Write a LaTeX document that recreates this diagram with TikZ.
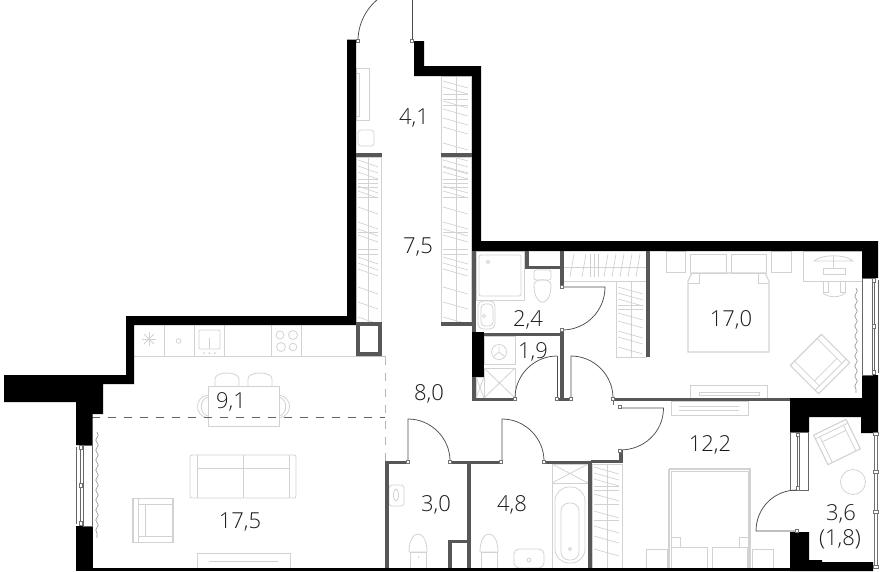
\documentclass[tikz,border=0pt]{standalone}
\usepackage{fontspec}
\setmainfont{Open Sans Light}[]
\usetikzlibrary{decorations.pathmorphing}
\definecolor{wallgray}{HTML}{575757}
\definecolor{furn}{HTML}{D2D2D2}
\definecolor{lbl}{HTML}{1A1A1A}
\tikzset{
  wallblack/.style={fill=black,draw=none},
  wallinner/.style={fill=wallgray,draw=none},
  fur/.style={draw=furn,line width=0.8pt,fill=none},
  hatchline/.style={draw=furn,line width=0.7pt},
  doorline/.style={draw=black!70,line width=0.75pt},
  hingebox/.style={draw=black!55,fill=white,line width=0.45pt},
  dashline/.style={draw=black!60,line width=0.7pt,dash pattern=on 8pt off 8pt},
  dashlight/.style={draw=black!30,line width=0.7pt,dash pattern=on 8pt off 8pt},
  curtain/.style={draw=black!40,line width=0.7pt,decorate,decoration={snake,amplitude=1.2pt,segment length=10pt}},
  area/.style={font=\fontsize{22}{24}\selectfont,text=lbl,inner sep=0pt,align=center,xshift=1pt,yshift=-2pt}
}
% wardrobe: x1,x2,ytop,ybottom, slant list, horizontal list
\newcommand{\wardrobe}[6]{%
  \draw[hatchline] (#1,#3) rectangle (#2,#4);
  \draw[hatchline] ({(#1+#2)/2},#3) -- ({(#1+#2)/2},#4);
  \foreach \yy in {#5}{\draw[hatchline] ({#1+2},{#3+\yy}) -- ({#2-3},{#3+\yy+7});}
  \foreach \yy in {#6}{\draw[hatchline] ({#1+2},{#3+\yy}) -- ({#2-3},{#3+\yy});}
}
% armchair drawn round its centre, back on the left: x, y, rotation, size factor
\newcommand{\armchair}[4]{%
  \begin{scope}[shift={(#1,#2)},rotate=#3,scale=#4]
    \draw[fur,line width=1.1pt] (-20,-22) rectangle (20,22);
    \draw[fur] (-15,-22) -- (-15,22);
    \draw[fur] (-15,-16) -- (20,-16);
    \draw[fur] (-15,16) -- (20,16);
    \draw[fur] (-8,-16) -- (-8,16);
  \end{scope}}
\newcommand{\hinge}[2]{\draw[hingebox] ({#1-1.5},{#2-1.5}) rectangle ({#1+1.5},{#2+1.5});}
\begin{document}
\begin{tikzpicture}[x=1pt,y=-1pt]
\useasboundingbox (0,0) rectangle (883,571);
\begin{scope}
\clip (0,0) rectangle (883,571);

% ---- furniture and fittings (under the walls)
% hall
\draw[fur] (356,68) rectangle (369,120);
\draw[fur] (356,73) rectangle (359,116);
\draw[fur,rounded corners=3pt] (358,130) rectangle (374,146);
\wardrobe{441}{471}{76}{153}{5,11,25,33,42,51,67,78,91}{18,23,29}
\wardrobe{356}{381}{157}{322}{3,9,15,29,34,50,65,72,78,100,106,112,130,145,160}{22,26,30,40,75,92,97}
\wardrobe{441}{471}{157}{322}{3,9,15,29,34,50,65,72,78,100,106,112,130,145,160}{22,26,30,40,75,92,97}
% wardrobe at 12,2
\wardrobe{592}{622}{464}{568}{3,9,15,30,47,62,72,85}{22,26,40,56}
% wardrobe at 17,0
\draw[hatchline] (564,267) -- (646,267);
\draw[hatchline] (564,281) -- (646,281);
\foreach \xx in {570,582,604,612,620,628,636}{\draw[hatchline] (\xx,277) -- ({\xx+4},254);}
\foreach \xx in {590,594,598}{\draw[hatchline] (\xx,254) -- (\xx,277);}
\draw[hatchline] (616,281) rectangle (646,357);
\draw[hatchline] (631,281) -- (631,357);
\foreach \yy in {287,293,299,313,321,331,337,347}{\draw[hatchline] (618,\yy) -- (643,{\yy+7});}
\foreach \yy in {305,309}{\draw[hatchline] (618,\yy) -- (643,\yy);}
% bathroom 2,4
\draw[fur] (476,251) rectangle (524,300);
\draw[fur,rounded corners=2pt] (479,255) rectangle (521,296);
\draw[fur] (488,262) circle (1.8);
\draw[fur,rounded corners=5pt] (478,301) rectangle (495,329);
\draw[fur,rounded corners=4pt] (481,304) rectangle (493,326);
\draw[fur] (484,316) circle (1.6);
\draw[fur,rounded corners=2pt] (534,270) rectangle (551,280);
\draw[fur] (534,285) .. controls (534,308) and (551,308) .. (551,285) .. controls (551,278) and (534,278) .. (534,285) -- cycle;
% 1,9
\draw[fur] (476,336) -- (476,398);
\draw[fur] (484,336) rectangle (515,364);
\draw[fur] (499,352) circle (7.5);
\draw[fur] (499,352) -- (499,347) (499,352) -- (494,356) (499,352) -- (504,356);
\draw[fur] (484,368) rectangle (515,398);
\draw[fur] (484,368) -- (515,398) (515,368) -- (484,398);
\draw[fur] (476,377) rectangle (484,398);
\draw[fur] (476,377) -- (484,398) (484,377) -- (476,398);
% 3,0
\draw[fur,rounded corners=3pt] (389,485) rectangle (404,506);
\draw[fur] (396,495) ellipse (2.5 and 6);
\draw[fur] (418,558) -- (418,556);
\draw[fur] (409,552) .. controls (409,528) and (427,528) .. (427,552) -- cycle;
\draw[fur] (410,552) rectangle (426,568);
% 4,8
\draw[fur] (480,552) .. controls (480,528) and (498,528) .. (498,552) -- cycle;
\draw[fur] (481,552) rectangle (497,568);
\draw[fur,rounded corners=5pt] (514,549) rectangle (544,568);
\draw[fur] (529,560) circle (2);
\draw[fur] (552,464) rectangle (588,483);
\draw[fur] (552,464) -- (588,483) (588,464) -- (552,483);
\draw[fur,rounded corners=14pt] (555,487) rectangle (585,563);
\draw[fur,rounded corners=8pt] (561,503) rectangle (579,560);
\draw[fur] (570,549) circle (1.5);
\draw[fur] (552,464) -- (552,568);
% kitchen
\draw[fur] (134,356) -- (356,356);
\foreach \xx in {164,194,224,271,301}{\draw[fur] (\xx,325) -- (\xx,356);}
\foreach \aa in {0,45,90,135}{\draw[fur] ({149-7*cos(\aa)},{339-7*sin(\aa)}) -- ({149+7*cos(\aa)},{339+7*sin(\aa)});}
\draw[fur] (178.5,341) circle (2.3);
\draw[fur,rounded corners=1pt] (199,330) rectangle (220,349);
\draw[fur,line width=1.2pt] (209.5,338) -- (209.5,349);
\foreach \xx in {204,209.5,215}{\fill[furn] (\xx,353) circle (1);}
\draw[fur] (280,335) circle (4);
\draw[fur] (293,335) circle (4.5);
\draw[fur] (281,347) circle (4.5);
\draw[fur] (293,347) circle (3.8);
% dining
\draw[fur] (208,386) rectangle (279,426);
\draw[fur] (215,386) -- (215,379) .. controls (215,371) and (239,371) .. (239,379) -- (239,386);
\draw[fur] (248,386) -- (248,379) .. controls (248,371) and (272,371) .. (272,379) -- (272,386);
\draw[fur] (208,395) .. controls (194,397) and (194,416) .. (208,418);
\draw[fur] (208,397) .. controls (199,399) and (199,414) .. (208,416);
\draw[fur] (279,395) .. controls (293,397) and (293,416) .. (279,418);
\draw[fur] (279,397) .. controls (288,399) and (288,414) .. (279,416);
% living
\draw[fur,rounded corners=2pt] (190,455) rectangle (296,498);
\draw[fur] (197,455) -- (197,498) (289,455) -- (289,498) (243,455) -- (243,498);
\draw[fur] (197,468) -- (289,468);
\armchair{153}{520.5}{0}{1}
\draw[fur] (197,553) rectangle (290,568);
\draw[fur] (209,561) -- (278,561);
% bedroom 17,0
\draw[fur] (666,251) rectangle (685,272);
\draw[fur] (771,251) rectangle (791,272);
\draw[fur] (690,254) rectangle (726,273);
\draw[fur] (731,254) rectangle (766,273);
\draw[fur,line width=1.1pt] (688,281) -- (692,273) -- (765,273) -- (769,281) -- (769,352) -- (688,352) -- cycle;
\draw[fur] (688,283) -- (699,283) -- (699,274);
\draw[fur] (769,283) -- (758,283) -- (758,274);
\draw[fur] (803,251) rectangle (862,281);
\draw[fur] (814,261) .. controls (822,254) and (845,254) .. (853,261) -- (814,261) -- cycle;
\draw[fur] (823,268) rectangle (845,274);
\draw[fur] (833,256) -- (833,268);
\draw[fur] (823,281) rectangle (828,292);
\draw[fur] (840,281) rectangle (845,292);
\draw[fur] (823,293) .. controls (828,298) and (840,298) .. (845,293);
\armchair{820}{364}{135}{1}
\draw[fur] (690,385) rectangle (767,398);
\draw[fur] (699,392) -- (759,392);
\draw[fur] (699,392) -- (699,395) -- (759,395) -- (759,392);
% bedroom 12,2
\draw[fur] (671,401) rectangle (748,415);
\draw[fur] (679,406) -- (739,406) (679,410) -- (739,410);
\draw[fur,line width=1.1pt] (669,469) -- (750,469) -- (750,568) (669,469) -- (669,568);
\draw[fur] (671,471) -- (748,471);
\draw[fur] (671,471) -- (671,568) (748,471) -- (748,568);
\draw[fur] (671,537) -- (680,537) -- (680,547);
\draw[fur] (748,537) -- (739,537) -- (739,547);
\draw[fur] (671,547) rectangle (707,568);
\draw[fur] (712,547) rectangle (747,568);
\draw[fur] (646,549) rectangle (667,568);
\draw[fur] (752,549) rectangle (773,568);
% balcony
\armchair{837}{442}{-64}{0.82}
\draw[fur] (853,482) circle (12.5);

% zone lines
\draw[dashline] (92,417) -- (385,417);
\draw[dashlight] (385,357) -- (385,461);
\draw[black!25,line width=0.6pt] (356,356) -- (385,356) -- (385,361);

% curtains
\draw[curtain] (97,432) -- (97,538);
\draw[curtain] (856,288) -- (856,393);

% ---- walls
\fill[wallblack] (347,39.5) -- (356,39.5) -- (356,325) -- (134,325) -- (134,384) -- (103,384) -- (103,414) -- (92.5,414) -- (92.5,445) -- (76,445) -- (76,402) -- (4,402) -- (4,375) -- (126,375) -- (126,316) -- (347,316) -- cycle;
\fill[wallblack] (76,526) rectangle (92.5,571);
\fill[wallblack] (76,568) rectangle (873,571);
\fill[wallblack] (414,41) -- (424,41) -- (424,66) -- (481,66) -- (481,241) -- (878,241) -- (878,278) -- (862,278) -- (862,251) -- (472,251) -- (472,76) -- (414,76) -- cycle;
\fill[wallblack] (790,398) -- (862,398) -- (862,375) -- (878,375) -- (878,433) -- (861,433) -- (861,417) -- (809,417) -- (809,432) -- (790,432) -- cycle;
\fill[wallblack] (790,532) -- (809,532) -- (809,560) -- (822,560) -- (822,562) -- (873,562) -- (873,571) -- (790,571) -- cycle;
\fill[wallblack] (472,332) rectangle (484,377);

% inner walls
\fill[wallinner] (356,153) rectangle (381.5,157);
\fill[wallinner] (441,153) rectangle (472,157);
\fill[wallinner] (441,322) rectangle (472,326);
\draw[wallgray,line width=4pt] (358,324) rectangle (379.5,354);
\fill[wallinner] (472,251) rectangle (476,332);
\fill[wallinner] (472,377) rectangle (476,401);
\fill[wallinner] (472,398) rectangle (515,401);
\fill[wallinner] (484,333) rectangle (564,336);
\fill[wallinner] (525,251) rectangle (529,269);
\fill[wallinner] (525,266) rectangle (564,269);
\fill[wallinner] (560,251) rectangle (564,287);
\fill[wallinner] (560,330) rectangle (564,401);
\fill[wallinner] (557,398) rectangle (572,401);
\draw[black!50,line width=0.7pt] (557.5,360) -- (557.5,398);
\fill[wallinner] (646,251) rectangle (650,357);
\fill[wallinner] (613,398) rectangle (790,401);
\fill[wallinner] (385,461) rectangle (407,464);
\fill[wallinner] (385,461) rectangle (388.5,568);
\fill[wallinner] (451,461) rectangle (500,464);
\fill[wallinner] (467,464) rectangle (471,568);
\fill[wallinner] (448,539.5) rectangle (467,543);
\fill[wallinner] (448,539.5) rectangle (451.5,568);
\fill[wallinner] (544,461) rectangle (592,464);
\fill[wallinner] (588,464) rectangle (592,568);
\fill[wallinner] (591,460) rectangle (623,463);
\fill[wallinner] (619,450) rectangle (623,463);

% ---- windows
\draw[black!60,line width=0.7pt,fill=white] (83,445) rectangle (92.5,526);
\draw[black!60,line width=0.6pt] (76,447) -- (76,524) (80,447) -- (80,524);
\foreach \yy in {447,485,523}{\draw[hingebox] (79,{\yy-2}) rectangle (82,{\yy+2});}
\draw[black!60,line width=0.7pt,fill=white] (862,278) rectangle (872,375);
\draw[black!60,line width=0.6pt] (874,280) -- (874,373) (878,280) -- (878,373);
\foreach \yy in {280,326,372}{\draw[hingebox] (872,{\yy-2}) rectangle (875,{\yy+2});}
\draw[black!60,line width=0.7pt,fill=white] (790,432) rectangle (808.5,490);
\draw[black!60,line width=0.6pt] (797,433) -- (797,490) (799.5,433) -- (799.5,490);
\draw[hingebox] (796.5,433) rectangle (799.5,436);
\draw[hingebox] (796.5,486) rectangle (799.5,490);
% balcony railing
\fill[black!55] (873.5,433) rectangle (878,568);
\fill[white] (875,433) rectangle (877,568);
\foreach \yy in {434,472,512,567}{\draw[hingebox] (873,{\yy-1.5}) rectangle (878,{\yy+1.5});}

% ---- doors
\draw[doorline] (412,41) -- (412,-2);
\draw[doorline] (358,41) arc (180:240:54);
\hinge{358}{41}\hinge{412}{41}
\draw[doorline] (562,287) -- (605,287) .. controls (605,311) and (586,330) .. (562,330);
\hinge{562}{287}\hinge{562}{330}
\draw[doorline] (557,398) -- (557,356);
\draw[doorline] (515,398) .. controls (515,375) and (534,356) .. (557,356);
\hinge{515}{399}\hinge{557}{399}
\draw[doorline] (571,398) -- (571,356) .. controls (594,356) and (613,375) .. (613,398);
\hinge{571}{399}\hinge{613}{399}
\draw[doorline] (620,408) -- (663.5,408) .. controls (663.5,432) and (644,450) .. (620,450);
\hinge{620}{407}\hinge{620}{451}
\draw[black!60,line width=0.7pt] (613,401) -- (613,405);
\draw[doorline] (408,461) -- (408,419) .. controls (431,419) and (450,438) .. (450,461);
\hinge{408}{462}\hinge{450}{462}
\draw[doorline] (502,461) -- (502,419) .. controls (525,419) and (544,438) .. (544,461);
\hinge{501}{462}\hinge{544}{462}
\draw[doorline] (797,531) -- (756,531) .. controls (756,508) and (774,490) .. (797,490);
\hinge{797}{531}
\end{scope}

% ---- area labels
\node[area] (a41) at (413,116) {4,1};
\node[area] (a75) at (417,245) {7,5};
\node[area] (a24) at (527,318) {2,4};
\node[area] (a19) at (532,350) {1,9};
\node[area] (a80) at (428,392) {8,0};
\node[area] (a91) at (230,400) {9,1};
\node[area] (a175) at (239,520) {17,5};
\node[area] (a170) at (730,318) {17,0};
\node[area] (a122) at (709,443) {12,2};
\node[area] (a30) at (435,503) {3,0};
\node[area] (a48) at (511,503) {4,8};
\node[area] (a36) at (840,512) {3,6};
\node[area] (a18) at (839,537) {(1,8)};
\end{tikzpicture}
\end{document}
